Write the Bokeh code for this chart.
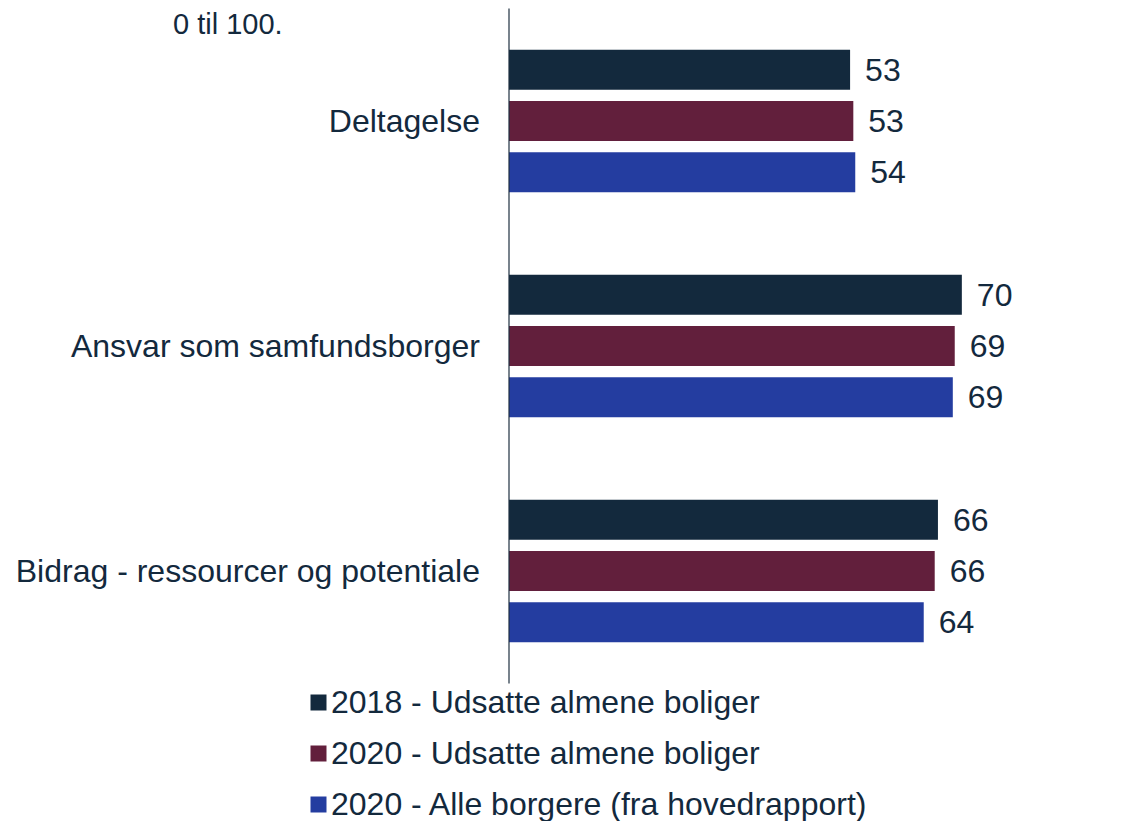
from bokeh.plotting import figure
from bokeh.models import ColumnDataSource, Range1d, Legend, LegendItem
from bokeh.transform import dodge
from bokeh.core.properties import value
from bokeh.embed import file_html
from bokeh.resources import INLINE

# ---- data ----
categories = ["Deltagelse", "Ansvar som samfundsborger", "Bidrag - ressourcer og potentiale"]
series_names = ["2018 - Udsatte almene boliger",
                "2020 - Udsatte almene boliger",
                "2020 - Alle borgere (fra hovedrapport)"]
v2018_udsatte = [52.8, 70.1, 66.4]
v2020_udsatte = [53.3, 69.0, 65.9]
v2020_alle = [53.6, 68.7, 64.2]
series_values = [v2018_udsatte, v2020_udsatte, v2020_alle]
colors = ["#13293D", "#621F3C", "#243DA0"]
note_text = "0 til 100."

FONT = "Liberation Sans"
TEXT_COLOR = "#13293D"

W, H = 1145, 821
axis_px = 508.5          # screen x of the value axis (value 0)
px_per_unit = 6.46       # pixels per value unit
py_per_cat = 225.0       # pixels per category slot
top_px = 8.0             # screen y of the top of the category area

n = len(categories)
x0 = -axis_px / px_per_unit
x1 = (W - axis_px) / px_per_unit
y_top = n + top_px / py_per_cat
y_bot = y_top - H / py_per_cat

p = figure(width=W, height=H, output_backend="svg", toolbar_location=None,
           x_range=Range1d(x0, x1), y_range=Range1d(y_bot, y_top),
           x_axis_location=None, y_axis_location=None,
           min_border=0, min_border_left=0, min_border_right=0,
           min_border_top=0, min_border_bottom=0)
p.outline_line_color = None
p.xgrid.visible = False
p.ygrid.visible = False
p.background_fill_color = "white"
p.border_fill_color = "white"

# category positions (top to bottom)
cat_pos = [n - i - 0.5 for i in range(n)]

bar_h = 40 / py_per_cat
pitch = 51.2 / py_per_cat
offsets = [pitch, 0.0, -pitch]

items = []
for name, vals, col, off in zip(series_names, series_values, colors, offsets):
    src = ColumnDataSource(dict(pos=cat_pos, val=vals,
                                lab=[str(round(v)) for v in vals]))
    r = p.hbar(y=dodge("pos", off), right="val", left=0,
               height=bar_h, source=src, fill_color=col, line_color=None)
    p.text(x="val", y=dodge("pos", off), text="lab", source=src,
           x_offset=15, text_baseline="middle", text_align="left",
           text_font=value(FONT), text_font_size="32px", text_color=TEXT_COLOR)
    items.append(LegendItem(label=name, renderers=[r]))

# category labels along the value axis
cat_src = ColumnDataSource(dict(pos=cat_pos, name=categories, zero=[0] * n))
p.text(x="zero", y="pos", text="name", source=cat_src, x_offset=-29,
       text_baseline="middle", text_align="right",
       text_font=value(FONT), text_font_size="32px", text_color=TEXT_COLOR)

# value axis line (at 0, spanning the category area)
p.segment(x0=[0], y0=[0], x1=[0], y1=[n], line_color="#1E2F40", line_width=1.2)

# note text at the top left
p.text(x=[0], y=[n], text=[note_text], x_offset=-336, y_offset=15,
       text_baseline="middle", text_align="left",
       text_font=value(FONT), text_font_size="29px", text_color=TEXT_COLOR)

legend = Legend(items=items, location=(308, -3), orientation="vertical",
                glyph_width=20, glyph_height=20, label_standoff=3,
                label_text_font=FONT, label_text_font_size="32px",
                label_text_color=TEXT_COLOR, label_height=40, spacing=11,
                padding=0, margin=0, border_line_color=None,
                background_fill_alpha=0)
p.add_layout(legend, "center")

open("out.html", "w").write(file_html(p, INLINE))
